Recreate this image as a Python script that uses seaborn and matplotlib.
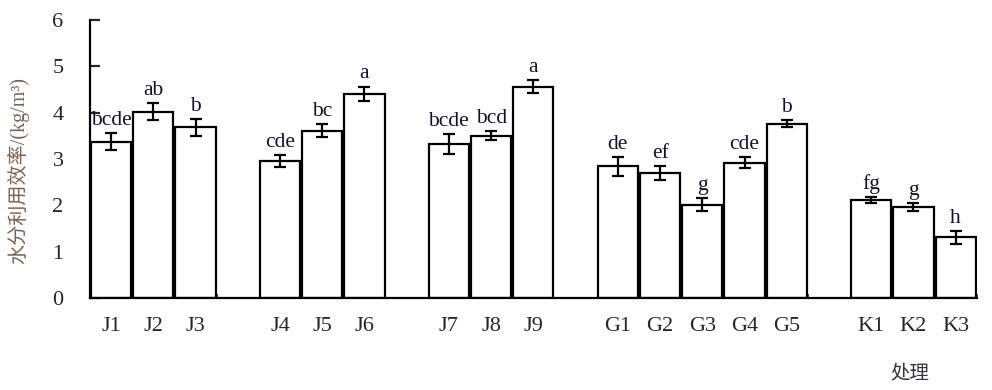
import numpy as np
import pandas as pd
import matplotlib
matplotlib.use("Agg")
import matplotlib.pyplot as plt
import seaborn as sns

# %% data

treatments = ["J1", "J2", "J3", "J4", "J5", "J6", "J7", "J8", "J9",
              "G1", "G2", "G3", "G4", "G5", "K1", "K2", "K3"]
slots = [0, 1, 2, 4, 5, 6, 8, 9, 10, 12, 13, 14, 15, 16, 18, 19, 20]
wue = [3.37, 4.02, 3.68, 2.95, 3.61, 4.40, 3.32, 3.50, 4.56,
       2.84, 2.69, 2.01, 2.92, 3.76, 2.11, 1.96, 1.31]
err = [0.18, 0.18, 0.18, 0.13, 0.14, 0.16, 0.22, 0.10, 0.14,
       0.20, 0.15, 0.14, 0.12, 0.08, 0.07, 0.09, 0.14]
letters = ["bcde", "ab", "b", "cde", "bc", "a", "bcde", "bcd", "a",
           "de", "ef", "g", "cde", "b", "fg", "g", "h"]

df = pd.DataFrame({"pos": slots, "wue": wue, "err": err, "label": letters})

# %% style

sns.set_style("white")
plt.rcParams["font.family"] = ["Liberation Serif", "Noto Sans CJK SC"]

fig = plt.figure(figsize=(9.92, 3.9), dpi=100)
ax = fig.add_axes([0.0907, 0.236, 0.894, 0.713])

sns.barplot(data=df, x="pos", y="wue", native_scale=True, width=0.95,
            color="white", edgecolor="black", linewidth=1.6,
            errorbar=None, ax=ax)
ax.errorbar(df["pos"], df["wue"], yerr=df["err"], fmt="none",
            ecolor="black", elinewidth=1.6, capsize=4.5, capthick=1.6)

for p, v, e, t in zip(df["pos"], df["wue"], df["err"], df["label"]):
    ax.text(p, v + e + 0.07, t, ha="center", va="bottom", fontsize=15.5,
            color="#111133")

ax.set_xlim(-0.5, 20.5)
ax.set_ylim(0, 6)
ax.set_yticks(range(7))
ax.set_xticks(slots)
ax.set_xticklabels(treatments)
ax.set_xticks([2.5, 16.5, 20.5], minor=True)
ax.tick_params(axis="y", direction="in", length=7, width=1.6, left=True,
               labelsize=16, pad=19)
ax.tick_params(axis="x", which="major", length=0, labelsize=16, pad=14)
ax.tick_params(axis="x", which="minor", direction="in", length=3, width=1.2,
               bottom=True)

for s in ["top", "right"]:
    ax.spines[s].set_visible(False)
for s in ["left", "bottom"]:
    ax.spines[s].set_linewidth(1.6)
    ax.spines[s].set_color("black")

ax.set_xlabel("")
ax.set_ylabel("水分利用效率/(kg/m³)", fontsize=14.5, color="#7d6450")
ax.yaxis.set_label_coords(-0.068, 0.46)
fig.text(0.917, 0.03, "处理", fontsize=14, color="#333344", ha="center")

fig.savefig("out.png", dpi=100)
